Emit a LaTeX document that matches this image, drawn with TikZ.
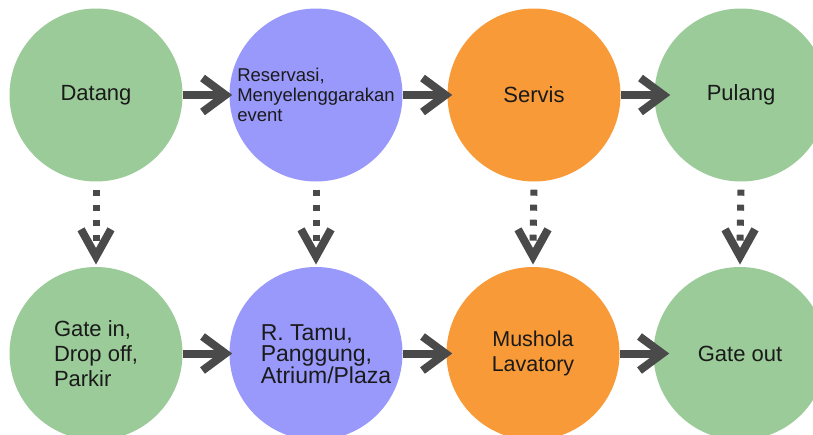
\documentclass[tikz,border=0pt]{standalone}
\usepackage{fontspec}
\setmainfont{Liberation Sans}
\definecolor{cgreen}{HTML}{9ACB98}
\definecolor{cpurple}{HTML}{9999FC}
\definecolor{corange}{HTML}{F89A37}
\definecolor{carrow}{HTML}{4A4A4A}
\definecolor{ctext}{HTML}{1A1A1A}
\begin{document}
\begin{tikzpicture}[x=1pt,y=-1pt,
  stage/.style={circle, minimum size=173pt, inner sep=0pt, text=ctext, align=center,
    font=\fontsize{22}{24.5}\selectfont},
  greenst/.style={stage, fill=cgreen},
  purplest/.style={stage, fill=cpurple},
  orangest/.style={stage, fill=corange},
  txt/.style={inner sep=0pt, text=ctext, align=left},
  shaft/.style={draw=carrow, line width=8pt, line cap=butt},
  chev/.style={draw=carrow, line width=8pt, line join=miter, line cap=butt},
  dotline/.style={draw=carrow, line width=7pt, line cap=butt, dash pattern=on 6pt off 9pt}]
\path[use as bounding box, fill=white] (0,0) rectangle (813,434);
\clip (0,0) rectangle (813,434);

% top row
\node[greenst] (datang) at (96,95) {Datang};
\node[purplest, align=left, font=\fontsize{18.5}{20}\selectfont] (reservasi) at (316,95)
  {Reservasi,\\Menyelenggarakan\\event};
\node[orangest] (servis) at (534,95) {Servis};
\node[greenst] (pulang) at (741,95) {Pulang};

% bottom row
\node[greenst, align=left, font=\fontsize{22}{24.7}\selectfont] (gatein) at (96,353.5)
  {Gate in,\\Drop off,\\Parkir};
\node[purplest] (tamu) at (316,353.5) {};
\node[txt, font=\fontsize{23}{21.5}\selectfont] (tamutext) at (326,354)
  {R. Tamu,\\Panggung,\\Atrium/Plaza};
\node[orangest, font=\fontsize{21.5}{25}\selectfont] (mushola) at (533,353.5)
  {Mushola\\Lavatory};
\node[greenst] (gateout) at (740,353.5) {Gate out};

% horizontal arrows (top row)
\foreach \s in {datang, reservasi, servis, gatein, tamu, mushola}{
  \coordinate (v-\s) at ([shift={(42.8,0)}]\s.east);
  \draw[shaft] (\s.east) -- (v-\s);
  \draw[chev] ([shift={(-23,-17)}]v-\s) -- (v-\s) -- ([shift={(-23,17)}]v-\s);
}

% vertical dotted arrows
\foreach \s/\t in {datang/gatein, reservasi/tamu, servis/mushola, pulang/gateout}{
  \coordinate (w-\s) at ([shift={(0,-10.5)}]\t.north);
  \draw[dotline] ([shift={(0,8)}]\s.south) -- ([shift={(0,-12)}]w-\s);
  \draw[chev] ([shift={(-15,-27)}]w-\s) -- (w-\s) -- ([shift={(15,-27)}]w-\s);
}
\end{tikzpicture}
\end{document}
